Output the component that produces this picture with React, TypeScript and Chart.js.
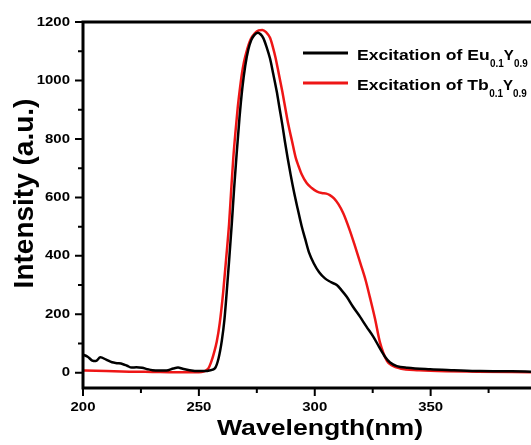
import React, { useEffect, useRef } from "react";
import { Chart, registerables } from "chart.js";

Chart.register(...registerables);

// ---------- data ----------
const euWavelength = [
  200, 202, 204, 205.5, 207.5, 210, 212.5, 215, 217, 219, 221, 223, 225.5, 228, 230, 233, 236, 239, 241, 243, 246,
  250, 253, 255, 256.9, 258.5, 259.9, 261, 262, 263.1, 264.2, 265.2, 266.3, 267.5, 268.7, 270, 271.3, 272.6, 273.9,
  275.4, 276.6, 277.8, 279.2, 280.7, 282.1, 283.6, 284.8, 286, 287.1, 288.3, 289.6, 291, 292.6, 294.3, 295.9, 297.5,
  299.6, 301.9, 304.4, 307, 309.5, 311.5, 313.8, 316.5, 319.5, 322.3, 325.3, 327.8, 330.3, 332.5, 335.4, 340, 349.8,
  360, 371.4, 385, 393.3,
];
const euIntensity = [
  62, 55, 42, 40, 53, 45, 36, 33, 30, 24, 18, 19, 17, 12, 9, 8, 8, 15, 18, 14, 9,
  6, 6, 9, 15, 50, 110, 180, 275, 390, 510, 630, 750, 870, 970, 1050, 1105, 1138, 1155,
  1163, 1158, 1145, 1115, 1075, 1022, 962, 905, 849, 792, 735, 677, 620, 562, 503, 457, 412,
  374, 344, 323, 310, 300, 283, 260, 226, 192, 158, 123, 88, 55, 35, 23, 17, 12,
  9, 6, 5, 4,
];

const tbWavelength = [
  200, 210, 220, 230, 240, 250, 252, 253.2, 254.1, 255.2, 256.4, 257.7, 259, 260.5, 261.7, 263, 263.9, 264.85,
  265.8, 266.75, 267.6, 268.5, 269.5, 270.6, 272.3, 274.2, 275.8, 277.4, 279, 280.7, 281.9, 283.1, 284.5, 286,
  287.3, 288.6, 290.2, 291.8, 293.1, 294.4, 296.5, 298.7, 300.8, 303, 305, 306.5, 308.3, 310.2, 312.3, 315, 317.5,
  319.8, 322, 323.8, 326, 328.1, 331.2, 333.5, 336.8, 345, 350, 370, 393.3,
];
const tbIntensity = [
  8, 6, 4, 3, 2, 2, 4, 9, 15, 35, 65, 106, 170, 277, 385, 506, 620, 735,
  825, 906, 965, 1020, 1065, 1100, 1140, 1162, 1171, 1173, 1165, 1146, 1115, 1077, 1022, 962,
  905, 849, 792, 735, 705, 678, 649, 632, 621, 615, 613, 608, 597, 577, 546, 490, 430,
  372, 315, 258, 185, 105, 40, 24, 15, 9, 7, 4, 2,
];

const xMajorTicks = [200, 250, 300, 350];
const xMinorTicks = [225, 275, 325, 375];
const yMajorTicks = [0, 200, 400, 600, 800, 1000, 1200];
const yMinorTicks = [100, 300, 500, 700, 900, 1100];

const seriesNames = ["Eu", "Tb"];
const seriesColors = ["#000000", "#ee1616"];
const xTitle = "Wavelength(nm)";
const yTitle = "Intensity (a.u.)";

const FONT = '"Liberation Sans", Arial, sans-serif';

function drawText(
  ctx: CanvasRenderingContext2D,
  text: string,
  x: number,
  y: number,
  size: number,
  sx: number,
  align: CanvasTextAlign,
  baseline: CanvasTextBaseline
) {
  ctx.save();
  ctx.translate(x, y);
  ctx.scale(sx, 1);
  ctx.font = `bold ${size}px ${FONT}`;
  ctx.textAlign = align;
  ctx.textBaseline = baseline;
  ctx.fillText(text, 0, 0);
  ctx.restore();
}

function textWidth(ctx: CanvasRenderingContext2D, text: string, size: number, sx: number) {
  ctx.save();
  ctx.font = `bold ${size}px ${FONT}`;
  const w = ctx.measureText(text).width * sx;
  ctx.restore();
  return w;
}

const framePlugin = {
  id: "frame",
  afterDatasetsDraw(chart: any) {
    const { ctx, chartArea: ca, scales } = chart;
    const xs = scales.x;
    const ys = scales.y;
    ctx.save();
    ctx.strokeStyle = "#000";
    ctx.fillStyle = "#000";
    ctx.lineCap = "butt";
    // frame
    ctx.lineWidth = 3;
    ctx.beginPath();
    ctx.moveTo(ca.left - 1.5, ca.top);
    ctx.lineTo(ca.right, ca.top);
    ctx.moveTo(ca.left, ca.top);
    ctx.lineTo(ca.left, ca.bottom + 1.5);
    ctx.moveTo(ca.left - 1.5, ca.bottom);
    ctx.lineTo(ca.right, ca.bottom);
    ctx.stroke();

    // ticks
    ctx.lineWidth = 2;
    ctx.beginPath();
    for (const v of xMajorTicks) {
      const px = xs.getPixelForValue(v);
      ctx.moveTo(px, ca.bottom);
      ctx.lineTo(px, ca.bottom + 8);
    }
    for (const v of xMinorTicks) {
      const px = xs.getPixelForValue(v);
      ctx.moveTo(px, ca.bottom);
      ctx.lineTo(px, ca.bottom + 5);
    }
    for (const v of yMajorTicks) {
      const py = ys.getPixelForValue(v);
      ctx.moveTo(ca.left, py);
      ctx.lineTo(ca.left - 8, py);
    }
    for (const v of yMinorTicks) {
      const py = ys.getPixelForValue(v);
      ctx.moveTo(ca.left, py);
      ctx.lineTo(ca.left - 5, py);
    }
    ctx.stroke();

    // tick labels
    for (const v of xMajorTicks) {
      drawText(ctx, String(v), xs.getPixelForValue(v), ca.bottom + 19, 13, 1.15, "center", "middle");
    }
    for (const v of yMajorTicks) {
      drawText(ctx, String(v), ca.left - 13, ys.getPixelForValue(v), 13, 1.15, "right", "middle");
    }

    // axis titles
    drawText(ctx, xTitle, (ca.left + 557) / 2, 435, 22, 1.21, "center", "alphabetic");
    ctx.save();
    ctx.translate(33, (ca.top + 365) / 2);
    ctx.rotate(-Math.PI / 2);
    ctx.font = `bold 28px ${FONT}`;
    ctx.textAlign = "center";
    ctx.textBaseline = "alphabetic";
    ctx.fillText(yTitle, 0, 0);
    ctx.restore();

    // legend
    const rows = [
      { y: 53, base: 59.5 },
      { y: 83, base: 90 },
    ];
    rows.forEach((r, i) => {
      ctx.strokeStyle = seriesColors[i];
      ctx.lineWidth = 3;
      ctx.beginPath();
      ctx.moveTo(303, r.y);
      ctx.lineTo(348, r.y);
      ctx.stroke();
      let x = 357;
      const main = `Excitation of ${seriesNames[i]}`;
      drawText(ctx, main, x, r.base, 15, 1.17, "left", "alphabetic");
      x += textWidth(ctx, main, 15, 1.17) + 0.5;
      drawText(ctx, "0.1", x, r.base + 7, 11, 0.9, "left", "alphabetic");
      x += textWidth(ctx, "0.1", 11, 0.9);
      drawText(ctx, "Y", x, r.base, 15, 1.0, "left", "alphabetic");
      x += textWidth(ctx, "Y", 15, 1.0);
      drawText(ctx, "0.9", x, r.base + 7, 11, 0.9, "left", "alphabetic");
    });
    ctx.restore();
  },
};

export default function App() {
  const canvasRef = useRef<HTMLCanvasElement | null>(null);

  useEffect(() => {
    if (!canvasRef.current) return;
    const toXY = (xs: number[], ys: number[]) => xs.map((x, i) => ({ x, y: ys[i] }));
    const chart = new Chart(canvasRef.current, {
      type: "line",
      data: {
        datasets: [
          {
            label: `Excitation of ${seriesNames[0]}0.1Y0.9`,
            data: toXY(euWavelength, euIntensity),
            borderColor: seriesColors[0],
            borderWidth: 2.5,
            pointRadius: 0,
            cubicInterpolationMode: "monotone",
            fill: false,
          },
          {
            label: `Excitation of ${seriesNames[1]}0.1Y0.9`,
            data: toXY(tbWavelength, tbIntensity),
            borderColor: seriesColors[1],
            borderWidth: 2.5,
            pointRadius: 0,
            cubicInterpolationMode: "monotone",
            fill: false,
          },
        ],
      },
      options: {
        responsive: false,
        animation: false,
        devicePixelRatio: 1,
        layout: { padding: { left: 83, top: 22, bottom: 57, right: 0 } },
        plugins: { legend: { display: false }, tooltip: { enabled: false } },
        scales: {
          x: { type: "linear", min: 200, max: 393.3, display: false },
          y: { type: "linear", min: -52, max: 1200, display: false },
        },
      },
      plugins: [framePlugin],
    });
    return () => chart.destroy();
  }, []);

  return (
    <div style={{ position: "fixed", left: 0, top: 0, width: 531, height: 445, background: "#fff" }}>
      <canvas ref={canvasRef} width={531} height={445} />
    </div>
  );
}
